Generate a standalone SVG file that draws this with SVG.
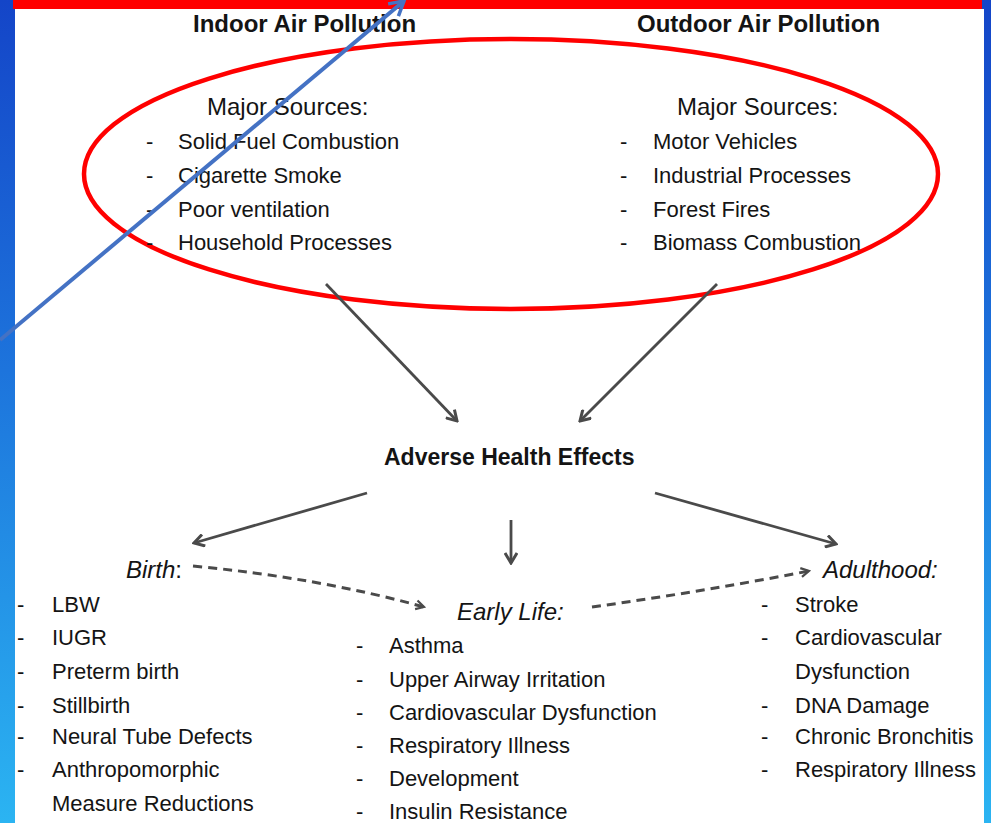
<svg xmlns="http://www.w3.org/2000/svg" width="991" height="823" viewBox="0 0 991 823">
  <defs>
    <linearGradient id="bg" x1="0" y1="0" x2="0" y2="1">
      <stop offset="0" stop-color="#1445c8"/>
      <stop offset="0.45" stop-color="#1d74dc"/>
      <stop offset="1" stop-color="#2bb4f2"/>
    </linearGradient>
    <marker id="ah" markerUnits="userSpaceOnUse" viewBox="0 0 14 14" refX="12" refY="7" markerWidth="14" markerHeight="14" orient="auto">
      <path d="M2,1 L12,7 L2,13" fill="none" stroke="#4a4a4a" stroke-width="3" stroke-linejoin="miter"/>
    </marker>
    <marker id="ahd" markerUnits="userSpaceOnUse" viewBox="0 0 12 12" refX="10" refY="6" markerWidth="12" markerHeight="12" orient="auto">
      <path d="M2,1.5 L10,6 L2,10.5" fill="none" stroke="#4a4a4a" stroke-width="2.2"/>
    </marker>
    <marker id="ahb" markerUnits="userSpaceOnUse" viewBox="0 0 20 20" refX="17" refY="10" markerWidth="20" markerHeight="20" orient="auto">
      <path d="M3,2 L17,10 L3,18" fill="none" stroke="#4472c4" stroke-width="3.5"/>
    </marker>
    <style>
      .t { font-family: "Liberation Sans", Arial, sans-serif; fill: #141414; }
      .h { font-size: 24px; font-weight: bold; }
      .ms { font-size: 24px; }
      .li { font-size: 22px; }
      .d { font-size: 22px; font-weight: bold; }
      .it { font-size: 24px; font-style: italic; }
      .arr { fill: none; stroke: #4a4a4a; stroke-width: 2.8; marker-end: url(#ah); }
      .dash { fill: none; stroke: #4a4a4a; stroke-width: 3; stroke-dasharray: 9 6; marker-end: url(#ahd); }
    </style>
  </defs>

  <!-- background -->
  <rect x="0" y="0" width="991" height="823" fill="url(#bg)"/>
  <rect x="15" y="9" width="969" height="814" fill="#ffffff"/>
  <rect x="13" y="0" width="969" height="9" fill="#ff0000"/>

  <!-- red ellipse -->
  <ellipse id="ellipse" cx="511" cy="174" rx="427" ry="135" fill="none" stroke="#ff0000" stroke-width="4.5"/>

  <g id="indoor">
    <text class="t h" x="193" y="32">Indoor Air Pollution</text>
    <text class="t ms" x="207" y="115">Major Sources:</text>
    <text class="t li" x="146" y="149">-</text><text class="t li" x="178" y="149">Solid Fuel Combustion</text>
    <text class="t li" x="146" y="183">-</text><text class="t li" x="178" y="183">Cigarette Smoke</text>
    <text class="t li" x="146" y="217">-</text><text class="t li" x="178" y="217">Poor ventilation</text>
    <text class="t li" x="146" y="250">-</text><text class="t li" x="178" y="250">Household Processes</text>
  </g>

  <g id="outdoor">
    <text class="t h" x="637" y="32">Outdoor Air Pollution</text>
    <text class="t ms" x="677" y="115">Major Sources:</text>
    <text class="t li" x="620" y="149">-</text><text class="t li" x="653" y="149">Motor Vehicles</text>
    <text class="t li" x="620" y="183">-</text><text class="t li" x="653" y="183">Industrial Processes</text>
    <text class="t li" x="620" y="217">-</text><text class="t li" x="653" y="217">Forest Fires</text>
    <text class="t li" x="620" y="250">-</text><text class="t li" x="653" y="250">Biomass Combustion</text>
  </g>

  <g id="adverse">
    <text class="t" x="384" y="465" font-size="23" font-weight="bold">Adverse Health Effects</text>
  </g>

  <g id="birth">
    <text class="t it" x="126" y="578">Birth<tspan font-style="normal">:</tspan></text>
    <text class="t li" x="17" y="612">-</text><text class="t li" x="52" y="612">LBW</text>
    <text class="t li" x="17" y="645">-</text><text class="t li" x="52" y="645">IUGR</text>
    <text class="t li" x="17" y="679">-</text><text class="t li" x="52" y="679">Preterm birth</text>
    <text class="t li" x="17" y="713">-</text><text class="t li" x="52" y="713">Stillbirth</text>
    <text class="t li" x="17" y="744">-</text><text class="t li" x="52" y="744">Neural Tube Defects</text>
    <text class="t li" x="17" y="777">-</text><text class="t li" x="52" y="777">Anthropomorphic</text>
    <text class="t li" x="52" y="811">Measure Reductions</text>
  </g>

  <g id="early">
    <text class="t it" x="457" y="620">Early Life:</text>
    <text class="t li" x="356" y="653">-</text><text class="t li" x="389" y="653">Asthma</text>
    <text class="t li" x="356" y="687">-</text><text class="t li" x="389" y="687">Upper Airway Irritation</text>
    <text class="t li" x="356" y="720">-</text><text class="t li" x="389" y="720">Cardiovascular Dysfunction</text>
    <text class="t li" x="356" y="753">-</text><text class="t li" x="389" y="753">Respiratory Illness</text>
    <text class="t li" x="356" y="786">-</text><text class="t li" x="389" y="786">Development</text>
    <text class="t li" x="356" y="819">-</text><text class="t li" x="389" y="819">Insulin Resistance</text>
  </g>

  <g id="adult">
    <text class="t it" x="823" y="578">Adulthood:</text>
    <text class="t li" x="761" y="612">-</text><text class="t li" x="795" y="612">Stroke</text>
    <text class="t li" x="761" y="645">-</text><text class="t li" x="795" y="645">Cardiovascular</text>
    <text class="t li" x="795" y="679">Dysfunction</text>
    <text class="t li" x="761" y="713">-</text><text class="t li" x="795" y="713">DNA Damage</text>
    <text class="t li" x="761" y="744">-</text><text class="t li" x="795" y="744">Chronic Bronchitis</text>
    <text class="t li" x="761" y="777">-</text><text class="t li" x="795" y="777">Respiratory Illness</text>
  </g>

  <g id="connectors">
    <line class="arr" x1="326" y1="284" x2="457" y2="421"/>
    <line class="arr" x1="717" y1="284" x2="580" y2="421"/>
    <line class="arr" x1="367" y1="493" x2="194" y2="543"/>
    <line class="arr" x1="511" y1="520" x2="511" y2="563"/>
    <line class="arr" x1="655" y1="493" x2="836" y2="544"/>
    <path class="dash" d="M193,566 Q320,578 424,607"/>
    <path class="dash" d="M592,607 Q700,592 809,571"/>
    <line x1="0" y1="340" x2="404" y2="1" stroke="#4472c4" stroke-width="4" marker-end="url(#ahb)"/>
  </g>
</svg>
